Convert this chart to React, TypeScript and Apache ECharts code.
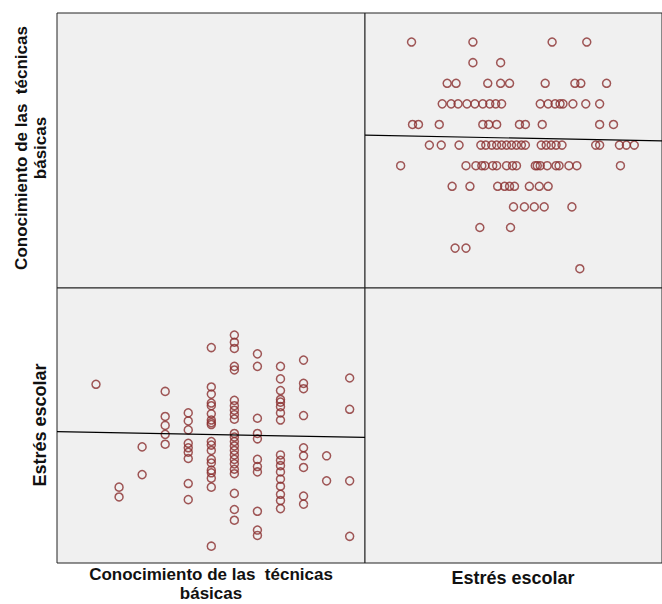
import React, { useEffect, useRef } from "react";
import * as echarts from "echarts";

// Conocimiento de las técnicas básicas: 12 discrete levels
const conocLevels = [1, 2, 3, 4, 5, 6, 7, 8, 9, 10, 11, 12];

// Estrés escolar values observed at each Conocimiento level (index = level - 1)
const estresPorNivel: number[][] = [
  [108.5],
  [45.5, 51],
  [58, 73.5],
  [75, 80.5, 85.5, 90.5, 104.5],
  [44, 53, 67, 70.5, 73, 75.5, 83, 88, 92.5],
  [18, 51, 56, 59, 60.5, 64.5, 66.5, 71.5, 74.5, 76.5, 86, 87, 88.5, 92, 96.5, 98, 103, 107, 129],
  [32.5, 38.5, 47.5, 58.5, 61, 64, 66.5, 69, 71.5, 74, 76.5, 79, 81, 89, 91.5, 94, 96.5, 99.5, 116.5, 118.5, 128.5, 132, 136],
  [24, 27, 37.5, 59.5, 62.5, 66.5, 78, 81, 89.5, 118.5, 125.5],
  [39, 43.5, 47, 51.5, 55.5, 59.5, 63, 66, 69, 88.5, 92.5, 96, 98.5, 100, 105, 111.5, 118.5],
  [41.5, 46, 62, 68.5, 73, 91, 106, 109, 122],
  [54.5, 68.5],
  [23.5, 54.5, 94.5, 112],
];

// Fit lines
const fitTRx = [0, 150]; // Estrés
const fitTRy = [7.48, 7.2]; // Conocimiento
const fitBLx = [-0.691, 12.665]; // Conocimiento
const fitBLy = [81.98, 78.85]; // Estrés

const varConoc = "Conocimiento de las  técnicas\nbásicas";
const varEstres = "Estrés escolar";

export default function App() {
  const ref = useRef<HTMLDivElement>(null);
  useEffect(() => {
    if (!ref.current) return;
    const chart = echarts.init(ref.current, null, { renderer: "svg" });
    const pairs: [number, number][] = [];
    conocLevels.forEach((k, i) => {
      estresPorNivel[i].forEach((e) => pairs.push([k, e]));
    });
    const trData = pairs.map(([k, e]) => [e, k]);
    const blData = pairs.map(([k, e]) => [k, e]);

    const gridBase = {
      show: true,
      backgroundColor: "#f0f0f0",
      borderColor: "#222",
      borderWidth: 1,
    };
    const hidden = { show: false };
    const marker = {
      type: "scatter" as const,
      symbol: "circle",
      symbolSize: 8,
      itemStyle: { color: "rgba(0,0,0,0)", borderColor: "#8a2e2e", borderWidth: 1.5 },
      silent: true,
    };
    const fitLine = {
      type: "line" as const,
      symbol: "none",
      lineStyle: { color: "#000", width: 1.2 },
      silent: true,
    };
    const font = {
      fontFamily: "Liberation Sans, Arial, sans-serif",
      fontWeight: "bold",
      fontSize: 17,
      fill: "#111",
      lineHeight: 19.5,
      align: "center",
      verticalAlign: "middle",
    };

    chart.setOption({
      animation: false,
      backgroundColor: "#fff",
      grid: [
        { ...gridBase, left: 57, top: 13, width: 308, height: 275 },
        { ...gridBase, left: 365, top: 13, width: 300, height: 275 },
        { ...gridBase, left: 57, top: 288, width: 308, height: 275 },
        { ...gridBase, left: 365, top: 288, width: 300, height: 275 },
      ],
      xAxis: [
        { type: "value", gridIndex: 0, min: 0, max: 1, ...hidden },
        { type: "value", gridIndex: 1, min: 0, max: 150, ...hidden },
        { type: "value", gridIndex: 2, min: -0.691, max: 12.665, ...hidden },
        { type: "value", gridIndex: 3, min: 0, max: 1, ...hidden },
      ],
      yAxis: [
        { type: "value", gridIndex: 0, min: 0, max: 1, ...hidden },
        { type: "value", gridIndex: 1, min: 0.064, max: 13.41, ...hidden },
        { type: "value", gridIndex: 2, min: 8.59, max: 162.31, ...hidden },
        { type: "value", gridIndex: 3, min: 0, max: 1, ...hidden },
      ],
      series: [
        { ...marker, xAxisIndex: 1, yAxisIndex: 1, data: trData },
        { ...marker, xAxisIndex: 2, yAxisIndex: 2, data: blData },
        {
          ...fitLine,
          xAxisIndex: 1,
          yAxisIndex: 1,
          data: fitTRx.map((x, i) => [x, fitTRy[i]]),
        },
        {
          ...fitLine,
          xAxisIndex: 2,
          yAxisIndex: 2,
          data: fitBLx.map((x, i) => [x, fitBLy[i]]),
        },
      ],
      graphic: [
        { type: "text", x: 211, y: 584, style: { ...font, text: varConoc } },
        { type: "text", x: 513, y: 578, style: { ...font, fontSize: 18, text: varEstres } },
        { type: "text", x: 31, y: 148, rotation: Math.PI / 2, style: { ...font, text: varConoc } },
        { type: "text", x: 40, y: 425, rotation: Math.PI / 2, style: { ...font, fontSize: 18, text: varEstres } },
      ],
    });
    return () => chart.dispose();
  }, []);
  return (
    <div
      ref={ref}
      style={{ position: "fixed", left: 0, top: 0, width: 662, height: 604 }}
    />
  );
}
